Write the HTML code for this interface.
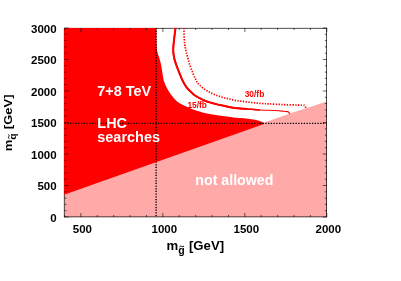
<!DOCTYPE html>
<html><head><meta charset="utf-8">
<style>
html,body{margin:0;padding:0;background:#fff;}
body{width:401px;height:281px;overflow:hidden;font-family:"Liberation Sans",sans-serif;}
svg{display:block;will-change:transform;}
text{font-family:"Liberation Sans",sans-serif;font-weight:bold;}
</style></head><body>
<svg width="401" height="281" viewBox="0 0 401 281">
<rect width="401" height="281" fill="#fff"/>
<path d="M64.5,217.0 L64.5,193.5 L105,179.3 L263.5,122.8 L290,113.4 L326.8,101.4 L326.8,217.0 Z" fill="#ffa9a9"/>
<rect x="64.25" y="28.25" width="262.4" height="188.65" fill="none" stroke="#000" stroke-width="0.7"/>
<path d="M156.60,28.00 C156.60,30.00 156.57,36.83 156.60,40.00 C156.63,43.17 156.67,44.98 156.80,47.00 C156.93,49.02 156.92,50.07 157.40,52.10 C157.88,54.13 159.03,56.82 159.70,59.20 C160.37,61.58 160.93,64.02 161.40,66.40 C161.87,68.78 162.10,71.13 162.50,73.50 C162.90,75.87 163.15,78.33 163.80,80.60 C164.45,82.87 165.25,84.83 166.40,87.10 C167.55,89.37 168.92,91.82 170.70,94.20 C172.48,96.58 174.85,99.50 177.10,101.40 C179.35,103.30 181.95,104.42 184.20,105.60 C186.45,106.78 188.22,107.55 190.60,108.50 C192.98,109.45 195.77,110.47 198.50,111.30 C201.23,112.13 203.55,112.78 207.00,113.50 C210.45,114.22 214.78,114.95 219.20,115.60 C223.62,116.25 230.03,117.00 233.50,117.40 C236.97,117.80 237.63,117.78 240.00,118.00 C242.37,118.22 245.03,118.37 247.70,118.70 C250.37,119.03 253.35,119.38 256.00,120.00 C258.65,120.62 262.33,122.00 263.60,122.40 L264,124 L105,180.3 L64.05,194.7 L64.05,27.9 L156.6,27.9 Z" fill="#fe0000"/>
<path d="M175.50,28.00 C175.35,29.17 174.95,32.00 174.60,35.00 C174.25,38.00 173.62,43.15 173.40,46.00 C173.18,48.85 173.12,49.90 173.30,52.10 C173.48,54.30 173.92,56.82 174.50,59.20 C175.08,61.58 175.95,64.02 176.80,66.40 C177.65,68.78 178.63,71.13 179.60,73.50 C180.57,75.87 181.47,78.33 182.60,80.60 C183.73,82.87 185.00,85.20 186.40,87.10 C187.80,89.00 189.57,90.60 191.00,92.00 C192.43,93.40 193.50,94.43 195.00,95.50 C196.50,96.57 198.33,97.53 200.00,98.40 C201.67,99.27 203.33,100.03 205.00,100.70 C206.67,101.37 208.33,101.87 210.00,102.40 C211.67,102.93 212.50,103.28 215.00,103.90 C217.50,104.52 221.67,105.43 225.00,106.10 C228.33,106.77 231.22,107.42 235.00,107.90 C238.78,108.38 243.53,108.65 247.70,109.00 C251.87,109.35 255.45,109.75 260.00,110.00 C264.55,110.25 271.08,110.30 275.00,110.50 C278.92,110.70 281.28,110.98 283.50,111.20 C285.72,111.42 287.50,111.70 288.30,111.80 L289.9,113.9" fill="none" stroke="#fe0000" stroke-width="1.15" stroke-linejoin="round"/>
<path d="M175.50,28.00 C175.35,29.17 174.95,32.00 174.60,35.00 C174.25,38.00 173.62,43.15 173.40,46.00 C173.18,48.85 173.12,49.90 173.30,52.10 C173.48,54.30 173.92,56.82 174.50,59.20 C175.08,61.58 175.95,64.02 176.80,66.40 C177.65,68.78 178.63,71.13 179.60,73.50 C180.57,75.87 181.47,78.33 182.60,80.60 C183.73,82.87 185.00,85.20 186.40,87.10 C187.80,89.00 189.57,90.60 191.00,92.00 C192.43,93.40 193.50,94.43 195.00,95.50 C196.50,96.57 198.33,97.53 200.00,98.40 C201.67,99.27 203.33,100.03 205.00,100.70 C206.67,101.37 208.33,101.87 210.00,102.40 C211.67,102.93 212.50,103.28 215.00,103.90 C217.50,104.52 221.67,105.43 225.00,106.10 C228.33,106.77 231.22,107.42 235.00,107.90 C238.78,108.38 245.58,108.82 247.70,109.00" fill="none" stroke="#fe0000" stroke-width="2.0" stroke-linejoin="round"/>
<path d="M175.50,28.00 C175.35,29.17 174.95,32.00 174.60,35.00 C174.25,38.00 173.62,43.15 173.40,46.00 C173.18,48.85 173.12,49.90 173.30,52.10 C173.48,54.30 173.92,56.82 174.50,59.20 C175.08,61.58 175.95,64.02 176.80,66.40 C177.65,68.78 178.63,71.13 179.60,73.50 C180.57,75.87 181.47,78.33 182.60,80.60 C183.73,82.87 185.00,85.20 186.40,87.10 C187.80,89.00 189.57,90.60 191.00,92.00 C192.43,93.40 193.50,94.43 195.00,95.50 C196.50,96.57 198.33,97.53 200.00,98.40 C201.67,99.27 203.33,100.03 205.00,100.70 C206.67,101.37 208.33,101.87 210.00,102.40 C211.67,102.93 212.50,103.28 215.00,103.90 C217.50,104.52 221.67,105.43 225.00,106.10 C228.33,106.77 231.22,107.42 235.00,107.90 C238.78,108.38 243.53,108.65 247.70,109.00 C251.87,109.35 257.95,109.83 260.00,110.00" fill="none" stroke="#fe0000" stroke-width="1.5" stroke-linejoin="round"/>
<path d="M183.90,28.00 C183.97,29.88 184.12,36.30 184.30,39.30 C184.48,42.30 184.67,43.87 185.00,46.00 C185.33,48.13 185.77,49.90 186.30,52.10 C186.83,54.30 187.53,56.82 188.20,59.20 C188.87,61.58 189.50,64.02 190.30,66.40 C191.10,68.78 192.13,71.40 193.00,73.50 C193.87,75.60 194.83,77.58 195.50,79.00 C196.17,80.42 196.25,80.92 197.00,82.00 C197.75,83.08 198.67,84.25 200.00,85.50 C201.33,86.75 203.33,88.33 205.00,89.50 C206.67,90.67 208.33,91.62 210.00,92.50 C211.67,93.38 213.33,94.13 215.00,94.80 C216.67,95.47 218.33,95.97 220.00,96.50 C221.67,97.03 223.33,97.57 225.00,98.00 C226.67,98.43 228.33,98.70 230.00,99.10 C231.67,99.50 233.23,100.07 235.00,100.40 C236.77,100.73 238.48,100.83 240.60,101.10 C242.72,101.37 245.30,101.70 247.70,102.00 C250.10,102.30 252.62,102.65 255.00,102.90 C257.38,103.15 259.63,103.33 262.00,103.50 C264.37,103.67 265.62,103.72 269.20,103.90 C272.78,104.08 278.75,104.40 283.50,104.60 C288.25,104.80 294.23,104.98 297.70,105.10 C301.17,105.22 303.20,105.27 304.30,105.30 L306,107.8" fill="none" stroke="#fe0000" stroke-width="1.7" stroke-dasharray="1.35,1.4"/>
<line x1="64.5" y1="123.4" x2="326.8" y2="123.4" stroke="#000" stroke-width="1.4" stroke-dasharray="1.3,1.45"/>
<line x1="156.1" y1="28.0" x2="156.1" y2="217.0" stroke="#000" stroke-width="1.4" stroke-dasharray="1.25,1.42"/>
<path d="M64.50,217.0v-2.0M64.50,28.0v2.0M80.89,217.0v-4.0M80.89,28.0v4.0M97.29,217.0v-2.0M97.29,28.0v2.0M113.68,217.0v-2.0M113.68,28.0v2.0M130.07,217.0v-2.0M130.07,28.0v2.0M146.47,217.0v-2.0M146.47,28.0v2.0M162.86,217.0v-4.0M162.86,28.0v4.0M179.26,217.0v-2.0M179.26,28.0v2.0M195.65,217.0v-2.0M195.65,28.0v2.0M212.04,217.0v-2.0M212.04,28.0v2.0M228.44,217.0v-2.0M228.44,28.0v2.0M244.83,217.0v-4.0M244.83,28.0v4.0M261.23,217.0v-2.0M261.23,28.0v2.0M277.62,217.0v-2.0M277.62,28.0v2.0M294.01,217.0v-2.0M294.01,28.0v2.0M310.41,217.0v-2.0M310.41,28.0v2.0M326.80,217.0v-4.0M326.80,28.0v4.0M64.5,217.00h4.0M326.8,217.00h-4.0M64.5,210.70h2.0M326.8,210.70h-2.0M64.5,204.40h2.0M326.8,204.40h-2.0M64.5,198.10h2.0M326.8,198.10h-2.0M64.5,191.80h2.0M326.8,191.80h-2.0M64.5,185.50h4.0M326.8,185.50h-4.0M64.5,179.20h2.0M326.8,179.20h-2.0M64.5,172.90h2.0M326.8,172.90h-2.0M64.5,166.60h2.0M326.8,166.60h-2.0M64.5,160.30h2.0M326.8,160.30h-2.0M64.5,154.00h4.0M326.8,154.00h-4.0M64.5,147.70h2.0M326.8,147.70h-2.0M64.5,141.40h2.0M326.8,141.40h-2.0M64.5,135.10h2.0M326.8,135.10h-2.0M64.5,128.80h2.0M326.8,128.80h-2.0M64.5,122.50h4.0M326.8,122.50h-4.0M64.5,116.20h2.0M326.8,116.20h-2.0M64.5,109.90h2.0M326.8,109.90h-2.0M64.5,103.60h2.0M326.8,103.60h-2.0M64.5,97.30h2.0M326.8,97.30h-2.0M64.5,91.00h4.0M326.8,91.00h-4.0M64.5,84.70h2.0M326.8,84.70h-2.0M64.5,78.40h2.0M326.8,78.40h-2.0M64.5,72.10h2.0M326.8,72.10h-2.0M64.5,65.80h2.0M326.8,65.80h-2.0M64.5,59.50h4.0M326.8,59.50h-4.0M64.5,53.20h2.0M326.8,53.20h-2.0M64.5,46.90h2.0M326.8,46.90h-2.0M64.5,40.60h2.0M326.8,40.60h-2.0M64.5,34.30h2.0M326.8,34.30h-2.0M64.5,28.00h4.0M326.8,28.00h-4.0" stroke="#000" stroke-width="0.6" fill="none"/>
<g font-size="11.5" fill="#000" text-anchor="end"><text x="56.6" y="221.80">0</text><text x="56.6" y="190.30">500</text><text x="56.6" y="158.80">1000</text><text x="56.6" y="127.30">1500</text><text x="56.6" y="95.80">2000</text><text x="56.6" y="64.30">2500</text><text x="56.6" y="32.80">3000</text></g>
<g font-size="11.5" fill="#000" text-anchor="middle"><text x="82.39" y="233.3">500</text><text x="164.36" y="233.3">1000</text><text x="246.33" y="233.3">1500</text><text x="328.30" y="233.3">2000</text></g>
<text transform="translate(166.5,249.5) scale(1.015,1)" font-size="13">m<tspan font-size="10.4" dy="4.6">g</tspan><tspan dy="-4.6" font-size="13" dx="0.6"> [GeV]</tspan></text>
<path d="M179.4,246.9 q1.1,-1.5 2.3,-0.5 q1.2,1 2.3,-0.5" stroke="#000" stroke-width="1" fill="none"/>
<text transform="translate(12,151.3) rotate(-90) scale(1.0,0.9)" font-size="13">m<tspan font-size="10.4" dy="4.6">q</tspan><tspan dy="-4.6" font-size="13" dx="0.6"> [GeV]</tspan></text>
<path d="M9.3,138.8 q-1.4,-1.1 -0.5,-2.2 q0.9,-1.1 -0.5,-2.2" stroke="#000" stroke-width="1" fill="none"/>
<g fill="#fff">
<text transform="translate(97.3,96) scale(0.99,1.06)" font-size="14.6">7+8 TeV</text>
<text transform="translate(97.3,128) scale(0.99,1.06)" font-size="14.6">LHC</text>
<text transform="translate(97.3,141.6) scale(0.99,1.06)" font-size="14.6">searches</text>
<text transform="translate(195.3,184.8) scale(1,1)" font-size="14.2">not allowed</text>
</g>
<g fill="#fe0000" font-size="8.4">
<text transform="translate(187.4,108) scale(1,1.1)">15/fb</text>
<text transform="translate(244.7,97.1) scale(1,1.1)">30/fb</text>
</g>
</svg>
</body></html>
